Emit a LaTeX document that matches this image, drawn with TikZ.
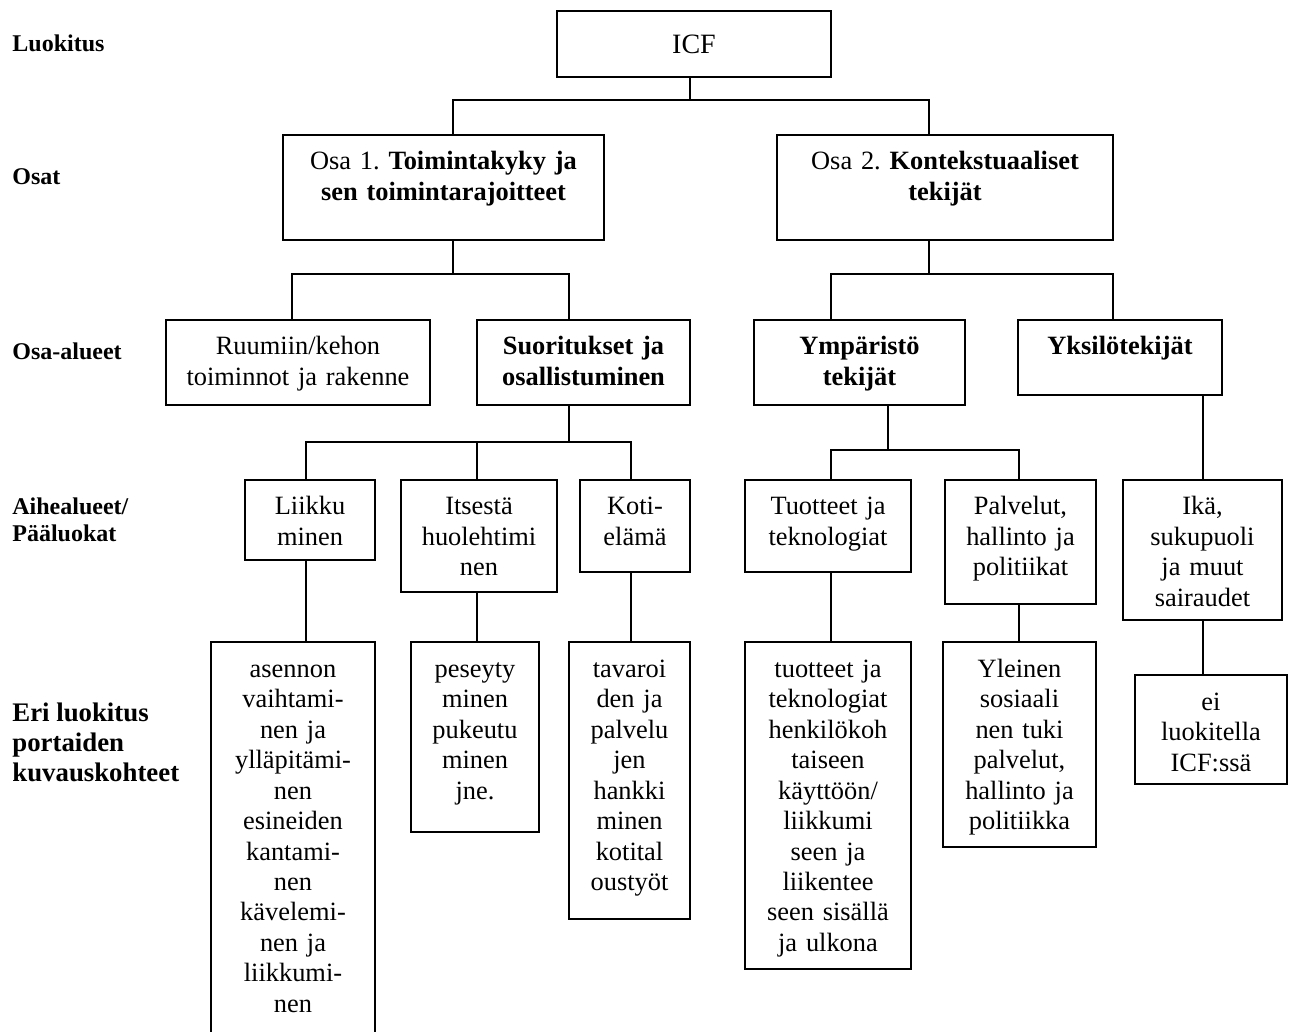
\documentclass[tikz,border=0pt]{standalone}
\usepackage{fontspec}
\setmainfont{Liberation Serif}
\frenchspacing

\begin{document}
\begin{tikzpicture}[x=0.5pt, y=-0.5pt,
    box/.style={draw, line width=1pt, inner sep=0pt, outer sep=0pt, anchor=north west,
        align=center, text height=17.5pt, font=\fontsize{13.2}{15.25}\selectfont},
    cell/.style 2 args={text width=#1, text depth=#2},
    rootbox/.style={draw, line width=1pt, inner sep=0pt, outer sep=0pt, anchor=north west,
        font=\fontsize{14}{16}\selectfont},
    conn/.style={line width=1pt},
    lbl/.style={anchor=west, align=left, inner sep=0pt, font=\bfseries\fontsize{12}{13.5}\selectfont}]
    \useasboundingbox (0,0) rectangle (1292,1032);

    % levels on the left
    \node[lbl] (luokitus) at (12,43) {Luokitus};
    \node[lbl] (osat) at (12,177) {Osat};
    \node[lbl] (osaalueet) at (12,351) {Osa-alueet};
    \node[lbl] (aihealueet) at (12,520) {Aihealueet/\\Pääluokat};
    \node[lbl, font=\bfseries\fontsize{13.4}{15}\selectfont] (kohteet) at (12,742) {Eri luokitus\\portaiden\\kuvauskohteet};

    % boxes
    \node[rootbox, minimum width=137pt, minimum height=33pt] (icf) at (557,11) {ICF};

    \node[box, cell={160.5pt}{35pt}] (osa1) at (283,135) {Osa 1. \textbf{Toimintakyky ja}\\\textbf{sen toimintarajoitteet}};
    \node[box, cell={168pt}{35pt}] (osa2) at (777,135) {Osa 2. \textbf{Kontekstuaaliset}\\\textbf{tekijät}};

    \node[box, cell={132pt}{25pt}] (ruumiin) at (166,320) {Ruumiin/kehon\\toiminnot ja rakenne};
    \node[box, cell={106.5pt}{25pt}] (suoritukset) at (477,320) {\bfseries Suoritukset ja\\osallistuminen};
    \node[box, cell={105.5pt}{25pt}] (ymparisto) at (754,320) {\bfseries Ympäristö\\tekijät};
    \node[box, cell={102pt}{20pt}] (yksilo) at (1018,320) {\bfseries Yksilötekijät};

    \node[box, cell={65pt}{22.5pt}] (liikku) at (245,480) {Liikku\\minen};
    \node[box, cell={78pt}{38.5pt}] (itsesta) at (401,480) {Itsestä\\huolehtimi\\nen};
    \node[box, cell={55pt}{28.5pt}] (koti) at (580,480) {Koti-\\elämä};
    \node[box, cell={83pt}{28.5pt}] (tuotteet) at (745,480) {Tuotteet ja\\teknologiat};
    \node[box, cell={75.5pt}{44.5pt}] (palvelut) at (945,480) {Palvelut,\\hallinto ja\\politiikat};
    \node[box, cell={79.5pt}{52.5pt}] (ika) at (1123,480) {Ikä,\\sukupuoli\\ja muut\\sairaudet};

    \node[box, cell={82pt}{184pt}] (asennon) at (211,642) {asennon\\vaihtami-\\nen ja\\ylläpitämi-\\nen\\esineiden\\kantami-\\nen\\kävelemi-\\nen ja\\liikkumi-\\nen};
    \node[box, cell={64pt}{77.5pt}] (peseyty) at (411,642) {peseyty\\minen\\pukeutu\\minen\\jne.};
    \node[box, cell={60.5pt}{121pt}] (tavaroi) at (569,642) {tavaroi\\den ja\\palvelu\\jen\\hankki\\minen\\kotital\\oustyöt};
    \node[box, cell={83pt}{146pt}] (tuotk) at (745,642) {tuotteet ja\\teknologiat\\henkilökoh\\taiseen\\käyttöön/\\liikkumi\\seen ja\\liikentee\\seen sisällä\\ja ulkona};
    \node[box, cell={76.5pt}{85pt}] (yleinen) at (943,642) {Yleinen\\sosiaali\\nen tuki\\palvelut,\\hallinto ja\\politiikka};
    \node[box, cell={76pt}{37pt}] (ei) at (1135,675) {ei\\luokitella\\ICF:ssä};

    % connectors
    \draw[conn] (690,0 |- icf.south) -- (690,100) -| (453,0 |- osa1.north);
    \draw[conn] (690,100) -| (929,0 |- osa2.north);
    \draw[conn] (453,0 |- osa1.south) -- (453,274) -| (292,0 |- ruumiin.north);
    \draw[conn] (453,274) -| (569,0 |- suoritukset.north);
    \draw[conn] (929,0 |- osa2.south) -- (929,274) -| (831,0 |- ymparisto.north);
    \draw[conn] (929,274) -| (1113,0 |- yksilo.north);
    \draw[conn] (569,0 |- suoritukset.south) -- (569,442) -| (306,0 |- liikku.north);
    \draw[conn] (569,442) -| (631,0 |- koti.north);
    \draw[conn] (477,442) -- (477,0 |- itsesta.north);
    \draw[conn] (888,0 |- ymparisto.south) -- (888,450) -| (831,0 |- tuotteet.north);
    \draw[conn] (888,450) -| (1019,0 |- palvelut.north);
    \draw[conn] (1203,0 |- yksilo.south) -- (1203,0 |- ika.north);
    \draw[conn] (306,0 |- liikku.south) -- (306,0 |- asennon.north);
    \draw[conn] (477,0 |- itsesta.south) -- (477,0 |- peseyty.north);
    \draw[conn] (631,0 |- koti.south) -- (631,0 |- tavaroi.north);
    \draw[conn] (831,0 |- tuotteet.south) -- (831,0 |- tuotk.north);
    \draw[conn] (1019,0 |- palvelut.south) -- (1019,0 |- yleinen.north);
    \draw[conn] (1203,0 |- ika.south) -- (1203,0 |- ei.north);
\end{tikzpicture}
\end{document}
